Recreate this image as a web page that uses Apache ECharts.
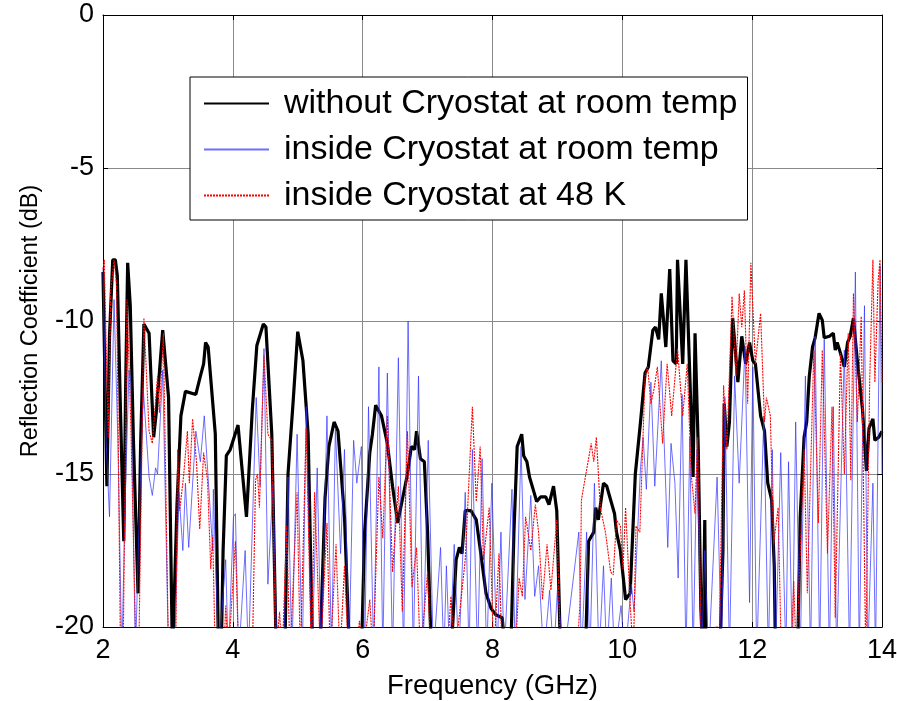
<!DOCTYPE html>
<html>
<head>
<meta charset="utf-8">
<script src="https://cdn.jsdelivr.net/npm/echarts@6/dist/echarts.min.js"></script>
<style>
html,body{margin:0;padding:0;background:#fff;}
#chart{width:897px;height:701px;}
</style>
</head>
<body>
<div id="chart"></div>
<script>
// ---- data (frequency in GHz, reflection coefficient in dB; values below -20 are off-scale) ----
const seriesNames = ["without Cryostat at room temp", "inside Cryostat at room temp", "inside Cryostat at 48 K"];
const xTicks = [2, 4, 6, 8, 10, 12, 14];
const yTicks = [-20, -15, -10, -5, 0];

const blackPts = [[2.00,-8.4],[2.06,-15.4],[2.10,-10.5],[2.15,-8.0],[2.19,-8.0],[2.22,-8.5],[2.27,-13],[2.32,-17.2],[2.35,-12],[2.38,-8.1],[2.42,-9.5],[2.47,-14],[2.54,-18.9],[2.58,-14],[2.63,-10.1],[2.71,-10.4],[2.78,-13.8],[2.82,-13.0],[2.92,-10.3],[3.01,-12.5],[3.07,-21],[3.10,-21],[3.14,-16],[3.20,-13.1],[3.27,-12.3],[3.43,-12.4],[3.50,-11.8],[3.55,-11.4],[3.58,-10.7],[3.62,-10.85],[3.73,-13.7],[3.78,-21],[3.82,-21],[3.85,-17.5],[3.90,-14.4],[3.96,-14.2],[4.08,-13.4],[4.21,-16.4],[4.30,-12.9],[4.37,-10.8],[4.47,-10.1],[4.51,-10.2],[4.60,-13.7],[4.67,-21],[4.80,-21],[4.85,-15],[4.93,-12.6],[5.00,-10.35],[5.08,-11.3],[5.16,-13.7],[5.23,-21],[5.34,-21],[5.42,-15.8],[5.48,-14.1],[5.56,-13.3],[5.62,-13.6],[5.72,-16.4],[5.80,-21],[5.98,-21],[6.03,-16.9],[6.11,-14.3],[6.15,-13.7],[6.20,-12.75],[6.29,-13.1],[6.38,-14.0],[6.46,-15.4],[6.54,-16.6],[6.61,-15.85],[6.69,-15.0],[6.75,-14.1],[6.80,-14.2],[6.83,-13.6],[6.89,-14.5],[6.95,-14.6],[7.00,-16.9],[7.06,-21],[7.36,-21],[7.44,-17.8],[7.49,-17.4],[7.53,-17.6],[7.58,-16.2],[7.67,-16.2],[7.75,-16.5],[7.82,-17.6],[7.90,-18.9],[7.98,-19.4],[8.05,-19.6],[8.15,-19.7],[8.20,-21],[8.28,-21],[8.33,-16.9],[8.38,-14.1],[8.45,-13.7],[8.48,-14.4],[8.53,-14.6],[8.57,-15.1],[8.64,-15.6],[8.68,-15.9],[8.74,-15.75],[8.82,-15.75],[8.87,-16.0],[8.94,-15.4],[8.99,-16.2],[9.05,-21],[9.43,-21],[9.48,-17.2],[9.56,-16.9],[9.59,-16.1],[9.63,-16.5],[9.71,-15.3],[9.76,-15.4],[9.82,-15.85],[9.88,-16.3],[9.91,-16.9],[9.97,-17.5],[10.05,-19.1],[10.12,-18.9],[10.20,-15.0],[10.28,-13.3],[10.35,-11.7],[10.40,-11.5],[10.47,-10.3],[10.51,-10.2],[10.56,-10.6],[10.60,-9.1],[10.67,-10.85],[10.73,-8.3],[10.78,-11.3],[10.83,-11.4],[10.85,-8.0],[10.93,-11.4],[10.98,-8.0],[11.06,-13.1],[11.09,-15.1],[11.12,-10.4],[11.17,-14.2],[11.21,-19.4],[11.24,-21],[11.26,-21],[11.27,-16.5],[11.29,-21],[11.50,-21],[11.55,-17.5],[11.57,-12.7],[11.61,-14.1],[11.65,-13.3],[11.70,-9.9],[11.75,-11.2],[11.78,-12.0],[11.84,-10.5],[11.90,-11.4],[11.96,-10.7],[12.01,-11.3],[12.05,-11.4],[12.13,-13.1],[12.19,-13.6],[12.24,-15.3],[12.30,-15.85],[12.34,-18.0],[12.36,-21],[12.70,-21],[12.74,-16.4],[12.80,-13.8],[12.84,-13.3],[12.88,-11.8],[12.93,-10.85],[12.97,-10.55],[13.03,-9.75],[13.08,-9.97],[13.11,-10.55],[13.19,-10.5],[13.25,-10.4],[13.28,-10.95],[13.31,-10.7],[13.36,-11.05],[13.42,-11.5],[13.47,-10.7],[13.51,-10.5],[13.56,-9.9],[13.62,-11.3],[13.70,-12.9],[13.76,-14.9],[13.80,-13.5],[13.86,-13.2],[13.89,-13.9],[13.95,-13.8],[14.00,-13.6]];

const bluePts = [[2.00,-8.3],[2.05,-14],[2.10,-16.4],[2.17,-9.3],[2.23,-14],[2.29,-21],[2.34,-16],[2.40,-11.6],[2.43,-12.0],[2.50,-21],[2.55,-17],[2.62,-12.2],[2.71,-15.1],[2.76,-15.7],[2.81,-14.8],[2.84,-15.0],[2.92,-11.6],[3.01,-21],[3.10,-21],[3.17,-15.6],[3.23,-17.5],[3.27,-15.3],[3.32,-17.4],[3.43,-13.6],[3.50,-14.6],[3.56,-13.1],[3.61,-14.8],[3.69,-17.5],[3.70,-15.5],[3.78,-21],[3.89,-17.8],[3.93,-21],[4.01,-16.4],[4.04,-16.3],[4.09,-21],[4.19,-17.5],[4.24,-21],[4.36,-12.5],[4.42,-15.4],[4.48,-10.9],[4.54,-18.6],[4.62,-15.3],[4.68,-21],[4.78,-21],[4.85,-15.1],[4.91,-21],[4.99,-13.7],[5.07,-21],[5.13,-12.8],[5.22,-21],[5.30,-14.8],[5.36,-21],[5.45,-13.1],[5.52,-21],[5.58,-13.5],[5.66,-17.6],[5.72,-14.2],[5.79,-21],[5.86,-13.9],[5.91,-15.3],[5.98,-14.1],[6.03,-21],[6.09,-12.8],[6.17,-21],[6.25,-11.5],[6.31,-21],[6.38,-11.7],[6.46,-21],[6.55,-11.2],[6.63,-21],[6.70,-10.0],[6.78,-21],[6.86,-11.8],[6.93,-21],[7.01,-13.9],[7.09,-21],[7.20,-17.4],[7.25,-21],[7.29,-18.0],[7.34,-21],[7.41,-17.3],[7.48,-21],[7.58,-15.6],[7.64,-21],[7.69,-14.2],[7.77,-21],[7.84,-14.5],[7.91,-21],[7.99,-15.3],[8.07,-21],[8.13,-16.9],[8.18,-21],[8.30,-15.5],[8.35,-21],[8.44,-14.1],[8.50,-19.1],[8.59,-15.7],[8.65,-19],[8.71,-18.0],[8.79,-21],[8.88,-18.8],[8.94,-21],[9.00,-18.8],[9.10,-21],[9.33,-16.9],[9.37,-21],[9.45,-16.9],[9.50,-21],[9.57,-15.3],[9.64,-21],[9.71,-18.0],[9.76,-21],[9.83,-18.4],[9.88,-21],[9.98,-19.3],[10.04,-21],[10.14,-18.6],[10.18,-19.5],[10.28,-14.8],[10.32,-13.8],[10.37,-15.5],[10.44,-12.0],[10.50,-15.4],[10.60,-11.3],[10.66,-14.9],[10.70,-17.4],[10.75,-14.0],[10.81,-15.3],[10.86,-18.4],[10.92,-12.4],[10.98,-21],[11.04,-13.8],[11.09,-21],[11.15,-14.2],[11.22,-21],[11.27,-17.5],[11.33,-21],[11.46,-15.1],[11.53,-21],[11.58,-12.5],[11.65,-21],[11.73,-11.8],[11.80,-15.3],[11.89,-10.85],[11.96,-19.2],[12.01,-11.5],[12.07,-21],[12.18,-13.1],[12.25,-21],[12.31,-14.2],[12.36,-21],[12.44,-14.3],[12.52,-21],[12.56,-14.6],[12.62,-21],[12.67,-13.3],[12.74,-21],[12.82,-11.8],[12.90,-21],[12.97,-10.5],[13.04,-21],[13.11,-10.6],[13.19,-21],[13.25,-12.8],[13.30,-21],[13.42,-10.95],[13.50,-21],[13.59,-8.4],[13.65,-21],[13.73,-9.5],[13.78,-21],[13.86,-15.3],[13.90,-21],[13.97,-8.2],[14.00,-15.0]];

const redPts = [[2.00,-8.3],[2.02,-8.0],[2.08,-13.8],[2.12,-9],[2.17,-8.0],[2.21,-8.8],[2.27,-21],[2.31,-21],[2.37,-9.3],[2.43,-13.5],[2.51,-21],[2.55,-21],[2.63,-9.9],[2.71,-13.6],[2.76,-14.0],[2.84,-11.8],[2.87,-13.0],[2.93,-10.4],[3.01,-21],[3.12,-21],[3.15,-14.2],[3.18,-16.2],[3.24,-15.1],[3.30,-13.6],[3.33,-15.3],[3.38,-13.2],[3.44,-14.6],[3.49,-16.8],[3.55,-14.3],[3.61,-15.2],[3.66,-18.1],[3.69,-17.0],[3.73,-21],[3.86,-21],[3.89,-19.3],[3.93,-21],[4.04,-17.2],[4.09,-21],[4.30,-21],[4.35,-15.2],[4.38,-15.0],[4.41,-16.1],[4.48,-11.1],[4.54,-13.7],[4.60,-13.9],[4.66,-21],[4.72,-19.5],[4.76,-21],[4.83,-16.7],[4.88,-21],[4.99,-15.6],[5.04,-21],[5.13,-13.5],[5.21,-21],[5.26,-15.6],[5.35,-21],[5.45,-16.6],[5.50,-21],[5.59,-17.3],[5.65,-21],[5.72,-18.0],[5.78,-21],[5.90,-21],[5.95,-19.8],[6.00,-21],[6.11,-19.1],[6.16,-21],[6.25,-15.1],[6.31,-17.1],[6.38,-13.1],[6.46,-18.2],[6.55,-15.4],[6.61,-19.5],[6.69,-13.6],[6.76,-18.7],[6.83,-17.4],[6.89,-21],[7.00,-18.2],[7.05,-21],[7.30,-21],[7.36,-19],[7.42,-21],[7.58,-17.8],[7.69,-12.8],[7.75,-15.9],[7.81,-14.1],[7.86,-17.8],[7.95,-16.1],[8.02,-21],[8.10,-17.6],[8.15,-21],[8.35,-21],[8.41,-18.4],[8.46,-19.0],[8.51,-16.4],[8.59,-17.5],[8.66,-16.0],[8.71,-16.9],[8.77,-19.1],[8.84,-17.3],[8.90,-18.8],[8.99,-16.5],[9.05,-21],[9.30,-21],[9.35,-19.1],[9.37,-15.85],[9.43,-15.1],[9.48,-14.5],[9.52,-14.0],[9.56,-14.6],[9.60,-13.8],[9.66,-16.1],[9.74,-16.9],[9.82,-18.2],[9.86,-18.3],[9.91,-16.5],[9.97,-16.7],[10.01,-18.1],[10.05,-16.1],[10.12,-19.2],[10.17,-21],[10.21,-16.7],[10.27,-16.9],[10.35,-11.8],[10.39,-11.5],[10.44,-12.7],[10.49,-12.2],[10.54,-11.5],[10.62,-14.0],[10.69,-11.4],[10.76,-13.1],[10.85,-10.9],[10.93,-13.1],[11.00,-11.4],[11.06,-15.0],[11.12,-16.3],[11.16,-13.8],[11.22,-21],[11.42,-21],[11.43,-20],[11.47,-20],[11.49,-21],[11.56,-12.1],[11.61,-14.2],[11.69,-9.2],[11.75,-11.8],[11.80,-9.1],[11.84,-10.2],[11.88,-9.0],[11.93,-12.7],[11.98,-8.1],[12.01,-8.1],[12.05,-11.4],[12.13,-9.75],[12.19,-13.3],[12.22,-12.5],[12.28,-13.1],[12.33,-17.3],[12.40,-16.1],[12.45,-21],[12.60,-21],[12.64,-18.5],[12.68,-21],[12.80,-14.2],[12.85,-18.9],[12.95,-10.95],[13.02,-16.6],[13.08,-10.95],[13.16,-17.6],[13.23,-12.8],[13.28,-19.7],[13.36,-11.05],[13.42,-15.0],[13.48,-10.4],[13.52,-15.2],[13.56,-9.1],[13.62,-13.3],[13.68,-9.85],[13.75,-21],[13.81,-12.0],[13.86,-8.0],[13.89,-12.0],[13.94,-8.7],[13.97,-8.0],[14.00,-12]];

const FONT = '"Liberation Sans", Arial, sans-serif';
const chart = echarts.init(document.getElementById('chart'), null, {renderer: 'canvas'});

const axisCommon = {
  axisLine: {show: true, onZero: false, lineStyle: {color: '#000', width: 1}},
  axisTick: {show: true, inside: true, length: 5, lineStyle: {color: '#000'}},
};

const option = {
  animation: false,
  backgroundColor: '#fff',
  grid: {left: 103, right: 15, top: 15, bottom: 74, containLabel: false, outerBoundsMode: 'none'},
  legend: {
    show: true,
    data: seriesNames,
    orient: 'vertical',
    left: 190, top: 77,
    backgroundColor: '#fff',
    borderColor: '#000', borderWidth: 1,
    padding: [4, 10, 2, 13],
    itemWidth: 65, itemHeight: 14, itemGap: 1,
    itemStyle: {opacity: 0, borderWidth: 0},
    textStyle: {fontFamily: FONT, fontSize: 34, color: '#000', lineHeight: 45, padding: [0, 0, 0, 10]},
    selectedMode: false
  },
  xAxis: [
    Object.assign({
      type: 'value', min: 2, max: 14, interval: 2, position: 'bottom',
      name: 'Frequency (GHz)', nameLocation: 'middle', nameGap: 45,
      nameTextStyle: {fontFamily: FONT, fontSize: 27.5, color: '#000'},
      axisLabel: {show: true, margin: 10, fontFamily: FONT, fontSize: 27, color: '#000',
        formatter: v => xTicks.includes(v) ? String(v) : ''},
      splitLine: {show: true, lineStyle: {color: '#8a8a8a', width: 1}}
    }, axisCommon),
    Object.assign({
      type: 'value', min: 2, max: 14, interval: 2, position: 'top',
      axisLabel: {show: false}, splitLine: {show: false}
    }, axisCommon)
  ],
  yAxis: [
    Object.assign({
      type: 'value', min: -20, max: 0, interval: 5, position: 'left',
      name: 'Reflection Coefficient (dB)', nameLocation: 'middle', nameGap: 60,
      nameTextStyle: {fontFamily: FONT, fontSize: 23.5, color: '#000'},
      axisLabel: {show: true, margin: 9, fontFamily: FONT, fontSize: 27, color: '#000',
        formatter: v => yTicks.includes(v) ? String(v) : ''},
      splitLine: {show: true, lineStyle: {color: '#8a8a8a', width: 1}}
    }, axisCommon),
    Object.assign({
      type: 'value', min: -20, max: 0, interval: 5, position: 'right',
      axisLabel: {show: false}, splitLine: {show: false}
    }, axisCommon)
  ],
  series: [
    {
      name: seriesNames[0], type: 'line', data: blackPts, xAxisIndex: 0, yAxisIndex: 0,
      showSymbol: false, symbol: 'none', clip: true,
      lineStyle: {color: '#000', width: 3.2}, itemStyle: {color: '#000'}, z: 3
    },
    {
      name: seriesNames[1], type: 'line', data: bluePts, xAxisIndex: 0, yAxisIndex: 0,
      showSymbol: false, symbol: 'none', clip: true,
      lineStyle: {color: 'rgba(50,50,255,0.7)', width: 1}, itemStyle: {color: '#3232ff'}, z: 4
    },
    {
      name: seriesNames[2], type: 'line', data: redPts, xAxisIndex: 0, yAxisIndex: 0,
      showSymbol: false, symbol: 'none', clip: true,
      lineStyle: {color: '#ff0000', width: 1.1, type: [2, 1]}, itemStyle: {color: '#ff0000'}, z: 5
    }
  ]
};
chart.setOption(option);
</script>
</body>
</html>
